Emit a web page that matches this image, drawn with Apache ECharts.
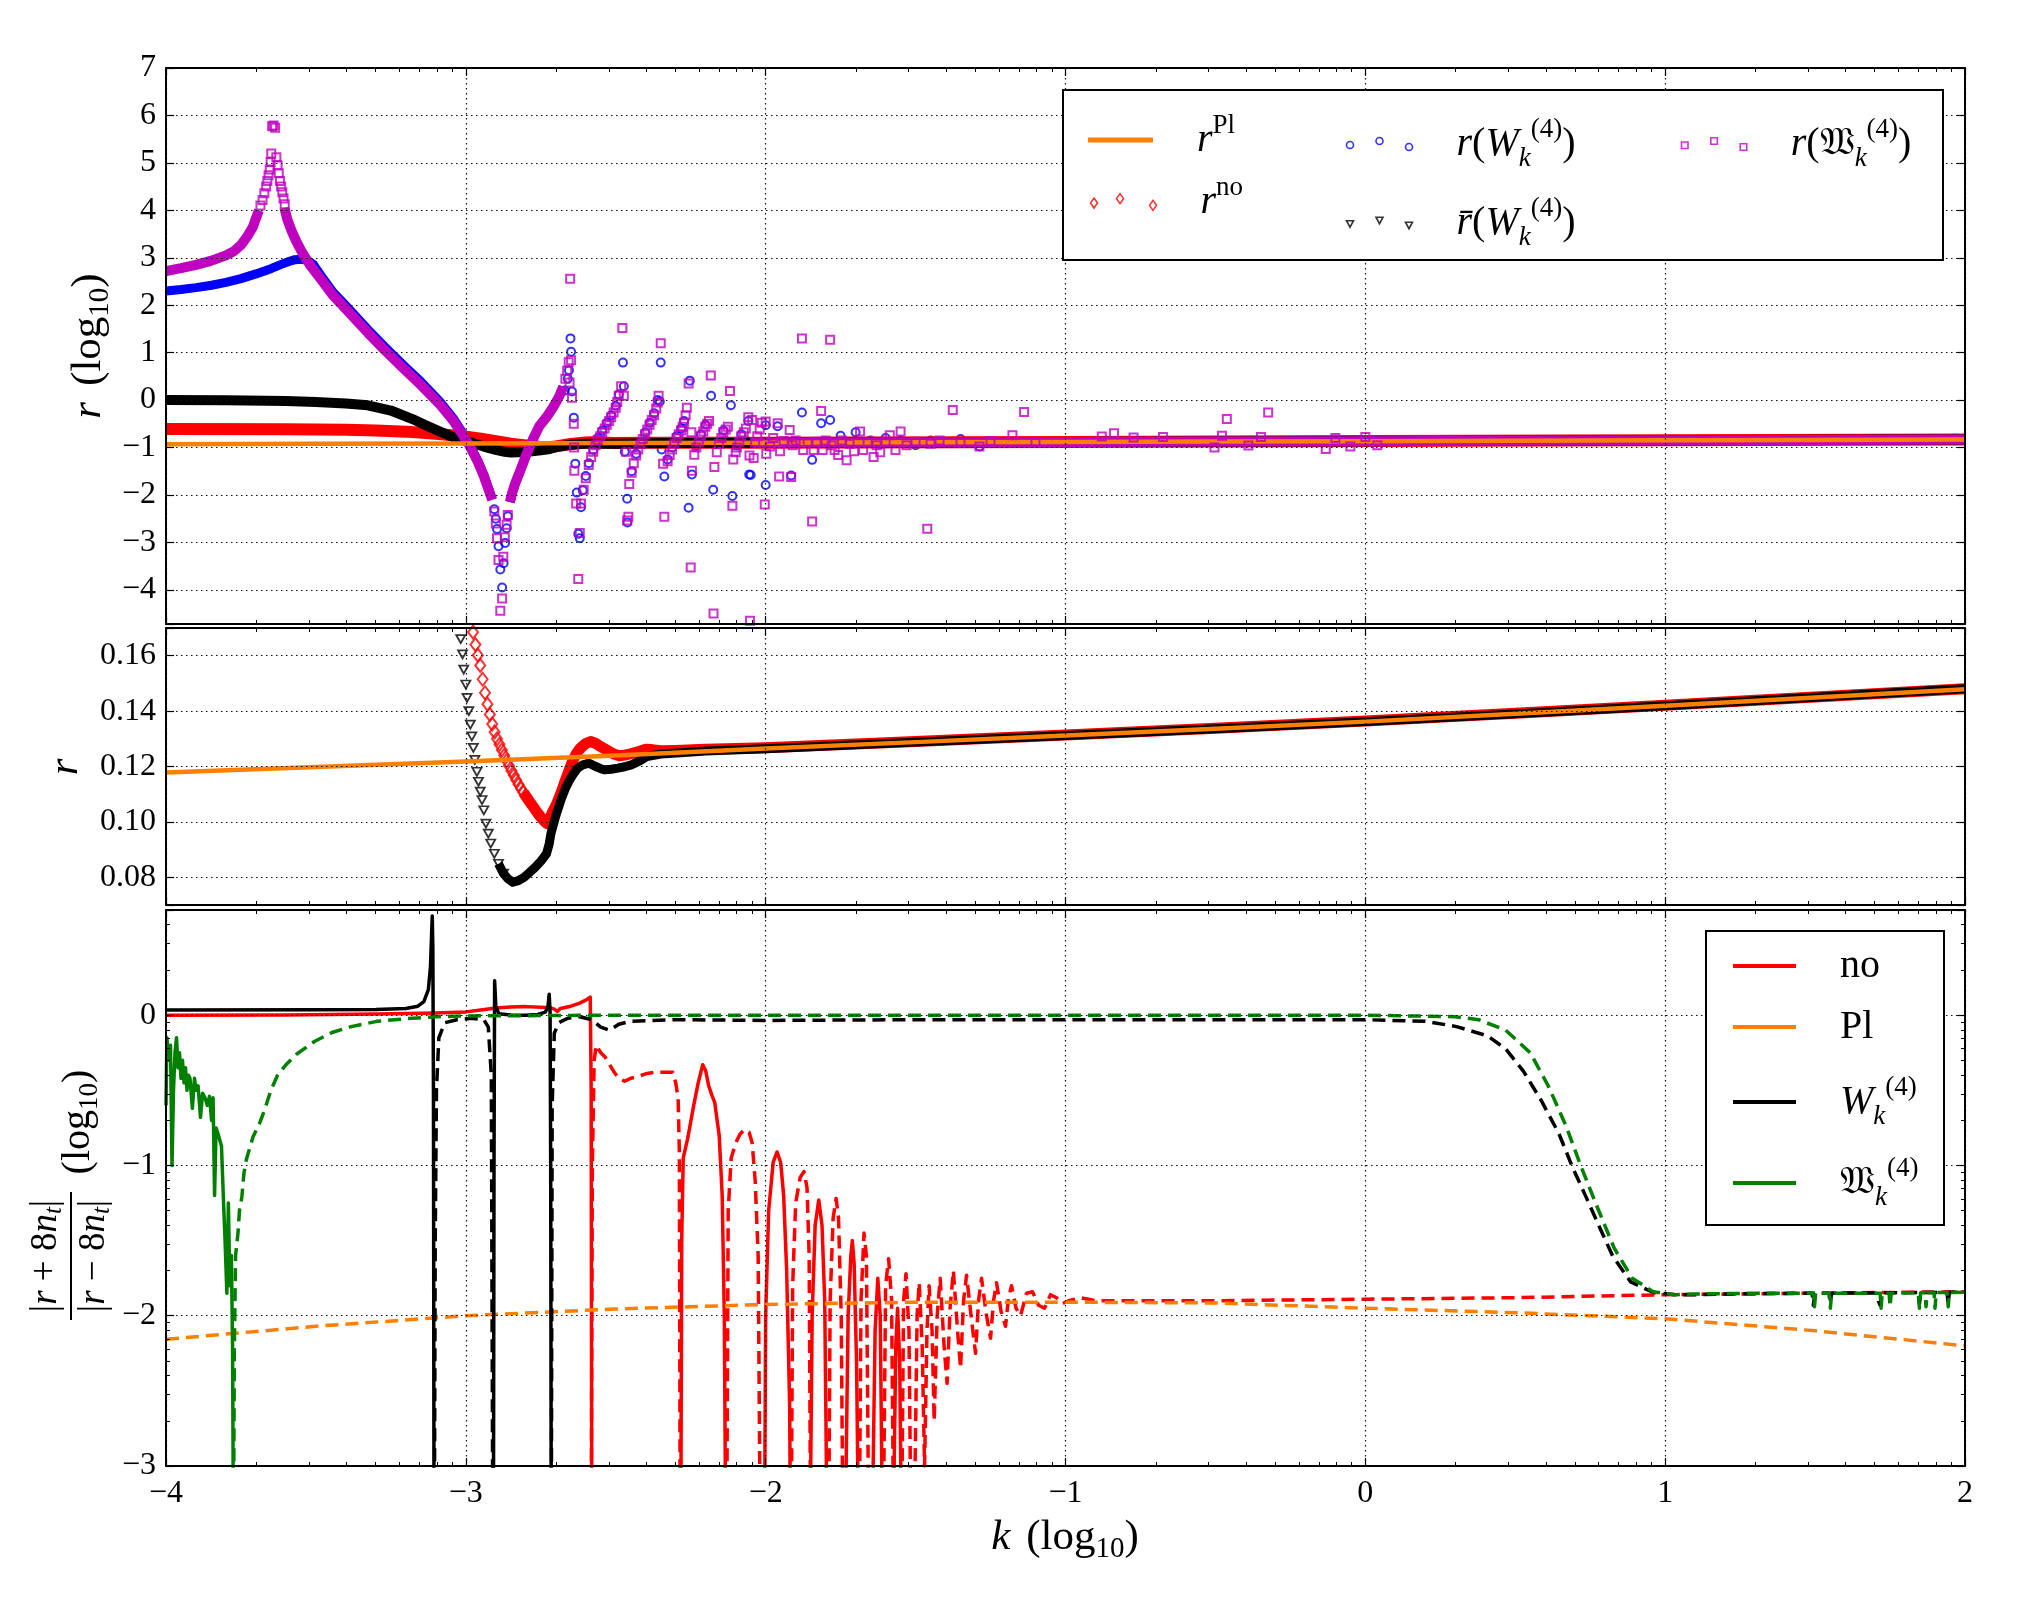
<!DOCTYPE html>
<html>
<head>
<meta charset="utf-8">
<title>r(k)</title>
<script src="https://cdn.jsdelivr.net/npm/echarts@6/dist/echarts.min.js"></script>
<style>
  html, body { margin: 0; padding: 0; background: #fff; }
  #chart { width: 2034px; height: 1603px; }
</style>
</head>
<body>
<div id="chart"></div>
<script>
// all x values are log10(k)

// ---- top panel: log10 r ----
var topPl = [[-4,-0.929],[-3.5,-0.922],[-3,-0.915],[-2.5,-0.907],[-2,-0.898],[-1.5,-0.890],[-1,-0.882],[-0.5,-0.874],[0,-0.866],[0.5,-0.857],[1,-0.848],[1.5,-0.839],[2,-0.830]];
var topNo = [[-4,-0.61],[-3.6,-0.615],[-3.4,-0.625],[-3.3,-0.64],[-3.2,-0.665],[-3.1,-0.71],[-3.0,-0.77],[-2.95,-0.815],[-2.9,-0.865],[-2.85,-0.92],[-2.8,-0.958],[-2.75,-0.99],[-2.73,-1.0],[-2.7,-0.977],[-2.65,-0.925],[-2.6,-0.894],[-2.58,-0.889],[-2.5,-0.905],[-2.4,-0.9],[-2.3,-0.9],[-2.0,-0.897],[-1,-0.881],[0,-0.865],[1,-0.847],[2,-0.829]];
var topRbarW = [[-4,0.0],[-3.8,-0.005],[-3.6,-0.02],[-3.5,-0.04],[-3.4,-0.07],[-3.327,-0.11],[-3.25,-0.22],[-3.178,-0.4],[-3.13,-0.54],[-3.088,-0.66],[-3.05,-0.76],[-3.02,-0.84],[-3.0,-0.86],[-2.97,-0.92],[-2.94,-0.98],[-2.9,-1.05],[-2.87,-1.09],[-2.85,-1.105],[-2.8,-1.095],[-2.75,-1.06],[-2.72,-1.03],[-2.7,-0.99],[-2.65,-0.94],[-2.6,-0.918],[-2.55,-0.92],[-2.5,-0.923],[-2.4,-0.912],[-2.3,-0.904],[-2.0,-0.898],[-1,-0.882],[0,-0.866],[1,-0.848],[2,-0.83]];
var topWBand = [[-4,2.30],[-3.95,2.33],[-3.9,2.37],[-3.848,2.42],[-3.8,2.48],[-3.75,2.56],[-3.7,2.66],[-3.65,2.77],[-3.62,2.85],[-3.59,2.92],[-3.57,2.96],[-3.55,2.97],[-3.53,2.95],[-3.51,2.87],[-3.48,2.6],[-3.446,2.3],[-3.4,1.99],[-3.327,1.49],[-3.27,1.12],[-3.207,0.73],[-3.15,0.39],[-3.088,-0.02],[-3.04,-0.4],[-2.99,-0.9],[-2.96,-1.28],[-2.94,-1.58],[-2.925,-1.85],[-2.912,-2.1],[-2.912,null],[-2.853,-2.15],[-2.845,-1.95],[-2.835,-1.75],[-2.821,-1.53],[-2.8,-1.18],[-2.778,-0.85],[-2.755,-0.55],[-2.731,-0.36],[-2.71,-0.16],[-2.69,0.06],[-2.675,0.28]];
var topFWBand = [[-4,2.72],[-3.95,2.78],[-3.9,2.85],[-3.848,2.94],[-3.8,3.05],[-3.773,3.14],[-3.75,3.27],[-3.729,3.45],[-3.71,3.65],[-3.699,3.85],[-3.69,4.0],[-3.69,null],[-3.605,4.05],[-3.595,3.8],[-3.58,3.55],[-3.565,3.34],[-3.545,3.1],[-3.52,2.85],[-3.48,2.52],[-3.446,2.23],[-3.4,1.92],[-3.327,1.42],[-3.27,1.05],[-3.207,0.66],[-3.15,0.32],[-3.088,-0.08],[-3.04,-0.45],[-2.99,-0.93],[-2.96,-1.3],[-2.94,-1.6],[-2.925,-1.87],[-2.912,-2.1],[-2.912,null],[-2.853,-2.15],[-2.845,-1.95],[-2.835,-1.75],[-2.821,-1.53],[-2.8,-1.18],[-2.778,-0.85],[-2.755,-0.55],[-2.731,-0.36],[-2.71,-0.16],[-2.69,0.06],[-2.675,0.28],[-2.675,null],[-2.05,-0.9],[-2,-0.898],[-1.5,-0.890],[-1,-0.882],[-0.5,-0.874],[0,-0.866],[0.5,-0.857],[1,-0.848],[1.5,-0.839],[2,-0.830]];
var topFWPts = [
  [-3.685,4.1],[-3.678,4.22],[-3.672,4.36],[-3.666,4.5],[-3.662,4.62],[-3.658,4.74],[-3.654,4.86],[-3.651,5.02],[-3.649,5.2],[-3.646,5.77],[-3.641,5.79],[-3.636,5.74],[-3.632,5.12],[-3.628,4.95],[-3.624,4.78],[-3.62,4.62],[-3.616,4.5],[-3.612,4.38],[-3.608,4.25],[-3.604,4.13],
  [-2.905,-2.35],[-2.9,-2.6],[-2.896,-2.91],[-2.891,-3.37],[-2.885,-4.44],[-2.879,-4.18],[-2.875,-3.3],[-2.87,-2.89],[-2.864,-2.63],[-2.86,-2.42],
  [-2.668,0.45],[-2.662,0.62],[-2.657,0.8],[-2.652,2.56],[-2.649,0.84],[-2.654,0.37],[-2.646,0.05],[-2.64,-0.5],[-2.639,-1.0],[-2.638,-1.49],[-2.632,-2.18],[-2.625,-3.77],[-2.62,-2.8],[-2.616,-2.18],
  [-2.607,-1.89],[-2.6,-1.65],[-2.59,-1.37],[-2.582,-1.2],[-2.575,-1.09],[-2.567,-0.95],[-2.56,-0.84],[-2.552,-0.76],[-2.545,-0.68],[-2.537,-0.6],[-2.53,-0.52],[-2.522,-0.44],[-2.515,-0.36],[-2.507,-0.26],[-2.5,-0.16],[-2.495,-0.04],[-2.49,0.09],[-2.482,0.29],[-2.478,1.52],[-2.473,0.09],
  [-2.465,-1.09],[-2.455,-1.77],[-2.462,-2.54],[-2.458,-2.46],
  [-2.447,-1.53],[-2.44,-1.33],[-2.432,-1.17],[-2.425,-1.04],[-2.417,-0.92],[-2.41,-0.82],[-2.402,-0.72],[-2.395,-0.62],[-2.387,-0.52],[-2.38,-0.42],[-2.372,-0.32],[-2.365,-0.18],[-2.36,-0.05],[-2.357,0.09],[-2.35,1.2],
  [-2.342,-1.34],[-2.338,-2.46],
  [-2.327,-1.29],[-2.32,-1.16],[-2.312,-1.04],[-2.305,-0.92],[-2.297,-0.8],[-2.29,-0.72],[-2.282,-0.64],[-2.277,-0.56],[-2.272,-0.48],[-2.267,-0.32],[-2.263,-0.16],[-2.257,0.35],[-2.248,-0.68],
  [-2.25,-3.53],[-2.246,-1.49],
  [-2.238,-1.15],[-2.231,-1.0],[-2.223,-0.88],[-2.216,-0.76],[-2.208,-0.66],[-2.201,-0.56],[-2.195,-0.5],[-2.189,-0.44],[-2.183,0.52],
  [-2.174,-4.5],[-2.171,-1.41],
  [-2.163,-1.1],[-2.156,-0.92],[-2.148,-0.8],[-2.141,-0.68],[-2.133,-0.62],[-2.126,-0.56],[-2.119,0.19],
  [-2.111,-2.23],[-2.108,-1.25],
  [-2.1,-1.1],[-2.096,-1.0],[-2.088,-0.88],[-2.081,-0.76],[-2.073,-0.68],[-2.066,-0.6],[-2.058,-0.36],
  [-2.054,-1.17],[-2.052,-4.65],
  [-2.045,-0.42],[-2.04,-1.22],[-2.035,-0.9],[-2.028,-0.76],[-2.02,-0.62],[-2.013,-0.48],[-2.003,-2.2],[-2.0,-0.45],[-1.998,-1.13],[-1.985,-0.98],[-1.975,-0.8],[-1.96,-0.49],[-1.955,-1.61],[-1.952,-1.08],[-1.94,-0.86],[-1.92,-0.63],[-1.915,-1.62],[-1.91,-0.95],[-1.9,-0.85],[-1.879,1.3],[-1.875,-1.05],[-1.86,-0.9],[-1.845,-2.56],[-1.84,-1.05],[-1.83,-0.88],[-1.815,-0.23],[-1.81,-1.05],[-1.8,-0.85],[-1.785,1.27],[-1.78,-0.95],[-1.77,-1.05],[-1.758,-1.16],[-1.745,-0.85],[-1.73,-1.27],[-1.72,-0.92],[-1.705,-1.08],[-1.685,-0.66],[-1.675,-1.05],[-1.66,-0.9],[-1.64,-1.2],[-1.63,-0.95],[-1.618,-1.1],[-1.6,-0.88],[-1.586,-0.74],[-1.567,-1.05],[-1.55,-0.66],[-1.53,-0.95],[-1.5,-0.88],[-1.461,-2.71],[-1.45,-0.92],[-1.42,-0.85],[-1.376,-0.21],[-1.35,-0.9],[-1.287,-0.98],[-1.25,-0.86],[-1.177,-0.74],[-1.138,-0.25],[-1.1,-0.9],[-0.879,-0.77],[-0.838,-0.7],[-0.773,-0.79],[-0.675,-0.78],[-0.503,-1.0],[-0.478,-0.75],[-0.462,-0.4],[-0.39,-0.96],[-0.348,-0.78],[-0.324,-0.26],[-0.132,-1.03],[-0.1,-0.8],[-0.05,-0.98],[0.0,-0.78],[0.04,-0.95]
];
var topWPts = [
  [-2.905,-2.3],[-2.9,-2.5],[-2.896,-2.72],[-2.891,-3.08],[-2.885,-3.57],[-2.879,-3.95],[-2.874,-3.44],[-2.869,-3.01],[-2.864,-2.7],[-2.86,-2.45],
  [-2.67,0.2],[-2.66,0.45],[-2.656,0.63],[-2.651,1.3],[-2.649,1.02],[-2.646,0.18],[-2.64,-0.37],[-2.635,-1.34],[-2.63,-1.95],[-2.625,-2.82],[-2.62,-2.91],[-2.616,-2.26],
  [-2.61,-1.9],[-2.6,-1.6],[-2.59,-1.33],[-2.575,-1.05],[-2.56,-0.8],[-2.545,-0.64],[-2.53,-0.48],[-2.515,-0.32],[-2.5,-0.12],[-2.49,0.12],[-2.476,0.79],[-2.473,0.29],
  [-2.47,-1.09],[-2.462,-2.08],[-2.461,-2.58],
  [-2.447,-1.5],[-2.432,-1.13],[-2.417,-0.88],[-2.402,-0.68],[-2.387,-0.48],[-2.372,-0.28],[-2.36,0.0],[-2.353,-0.03],[-2.35,0.79],
  [-2.347,-1.04],[-2.338,-1.61],
  [-2.327,-1.25],[-2.312,-1.0],[-2.297,-0.76],[-2.282,-0.6],[-2.272,-0.44],[-2.253,0.41],
  [-2.257,-2.27],[-2.246,-1.57],
  [-2.231,-0.96],[-2.216,-0.72],[-2.201,-0.52],[-2.182,0.09],
  [-2.175,-1.89],
  [-2.156,-0.88],[-2.141,-0.64],[-2.116,-0.11],
  [-2.111,-2.02],
  [-2.096,-0.96],[-2.081,-0.72],[-2.058,-0.44],
  [-2.055,-1.57],
  [-2.05,-1.58],[-2.0,-1.79],[-2.0,-0.53],[-1.96,-0.55],[-1.915,-1.59],[-1.879,-0.26],[-1.845,-1.26],[-1.815,-0.49],[-1.785,-0.42],[-1.75,-0.75],[-1.7,-0.68],[-1.65,-0.85],[-1.6,-0.8],[-1.55,-0.85],[-1.5,-0.95],[-1.45,-0.85],[-1.4,-0.9],[-1.35,-0.82],[-1.287,-0.98],[-1.2,-0.88]
];

// ---- middle panel: r ----
var midPl = [[-4,0.1178],[-3.5,0.1198],[-3,0.1218],[-2.5,0.1240],[-2,0.1265],[-1.5,0.1288],[-1,0.1312],[-0.5,0.1336],[0,0.1362],[0.5,0.1390],[1,0.1419],[1.5,0.1449],[2,0.1479]];
var midNoPts = [[-2.976,0.1685],[-2.968,0.1640],[-2.960,0.1602],[-2.952,0.1565],[-2.944,0.1515],[-2.936,0.1466],[-2.928,0.1425],[-2.920,0.1388],[-2.912,0.1353],[-2.904,0.1325],[-2.896,0.1300],[-2.888,0.1280],[-2.880,0.1260],[-2.872,0.1240],[-2.864,0.1221],[-2.856,0.1203],[-2.848,0.1185],[-2.840,0.1168],[-2.832,0.1151],[-2.824,0.1135],[-2.816,0.1120],[-2.808,0.1106],[-2.800,0.1093]];
var midNoBand = [[-2.808,0.1106],[-2.8,0.1093],[-2.784,0.1068],[-2.768,0.1043],[-2.752,0.1020],[-2.736,0.1000],[-2.728,0.0993],[-2.72,0.1012],[-2.712,0.1033],[-2.704,0.1050],[-2.696,0.1068],[-2.688,0.1090],[-2.68,0.1112],[-2.672,0.1138],[-2.664,0.1162],[-2.656,0.1185],[-2.648,0.1208],[-2.64,0.1228],[-2.632,0.1245],[-2.624,0.1258],[-2.616,0.1268],[-2.6,0.1283],[-2.584,0.1290],[-2.568,0.1284],[-2.552,0.1273],[-2.536,0.1263],[-2.52,0.1253],[-2.504,0.1244],[-2.488,0.1239],[-2.47,0.1241],[-2.45,0.1246],[-2.42,0.1255],[-2.4,0.1262],[-2.38,0.1261],[-2.35,0.1257],[-2.3,0.1258],[-2.2,0.1262],[-2,0.1268],[-1.5,0.1290],[-1,0.1314],[-0.5,0.1338],[0,0.1364],[0.5,0.1392],[1,0.1421],[1.5,0.1451],[2,0.1481]];
var midRbarPts = [[-3.017,0.166],[-3.011,0.1605],[-3.007,0.155],[-3.0,0.1496],[-2.996,0.1448],[-2.99,0.140],[-2.985,0.1351],[-2.98,0.1309],[-2.975,0.1267],[-2.97,0.1224],[-2.963,0.1181],[-2.958,0.1145],[-2.952,0.1109],[-2.946,0.1079],[-2.94,0.1042],[-2.933,0.0994],[-2.925,0.0958],[-2.917,0.0922],[-2.905,0.0885],[-2.891,0.0849],[-2.874,0.0813]];
var midRbarBand = [[-2.891,0.0849],[-2.874,0.0813],[-2.86,0.0795],[-2.843,0.0782],[-2.825,0.0788],[-2.806,0.0800],[-2.787,0.0818],[-2.769,0.0836],[-2.75,0.0858],[-2.731,0.0885],[-2.722,0.092],[-2.716,0.0959],[-2.708,0.0990],[-2.701,0.1018],[-2.69,0.1055],[-2.679,0.1091],[-2.668,0.1120],[-2.657,0.1145],[-2.642,0.1172],[-2.627,0.1194],[-2.61,0.1206],[-2.589,0.1212],[-2.567,0.1200],[-2.55,0.1192],[-2.537,0.1188],[-2.515,0.1190],[-2.493,0.1194],[-2.47,0.1199],[-2.448,0.1206],[-2.42,0.1220],[-2.396,0.1236],[-2.35,0.1245],[-2.284,0.1250],[-2.2,0.1256],[-2,0.1264],[-1.5,0.1288],[-1,0.1312],[-0.5,0.1336],[0,0.1362],[0.5,0.1390],[1,0.1419],[1.5,0.1450],[2,0.1481]];

// ---- bottom panel: log10 |r+8n_t|/|r-8n_t| ----
var botNoSolid = [[-4,0.0],[-3.6,0.002],[-3.3,0.008],[-3.1,0.015],[-3.0,0.022],[-2.95,0.035],[-2.9,0.048],[-2.85,0.055],[-2.8,0.057],[-2.75,0.053],[-2.72,0.05],[-2.705,0.04],[-2.695,0.025],[-2.685,0.045],[-2.65,0.06],[-2.62,0.08],[-2.6,0.1],[-2.585,0.12],[-2.582,-0.5],[-2.58,-3.5],[-2.58,null],
  [-2.283,-3.5],[-2.28,-1.5],[-2.275,-0.95],[-2.26,-0.82],[-2.24,-0.6],[-2.225,-0.45],[-2.21,-0.33],[-2.2,-0.37],[-2.19,-0.47],[-2.18,-0.53],[-2.17,-0.58],[-2.155,-0.8],[-2.145,-1.2],[-2.138,-2.0],[-2.133,-3.5],[-2.13,null],
  [-2.004,-3.5],[-2.0,-2.0],[-1.99,-1.3],[-1.975,-0.98],[-1.962,-0.91],[-1.95,-0.98],[-1.94,-1.2],[-1.93,-1.7],[-1.92,-2.6],[-1.917,-3.5],[-1.915,null],
  [-1.852,-3.5],[-1.845,-2.0],[-1.835,-1.4],[-1.823,-1.23],[-1.812,-1.4],[-1.803,-1.9],[-1.795,-3.5],[-1.79,null],
  [-1.735,-3.5],[-1.725,-2.0],[-1.716,-1.6],[-1.711,-1.5],[-1.705,-1.65],[-1.697,-2.3],[-1.69,-3.5],[-1.688,null],
  [-1.645,-3.5],[-1.635,-2.1],[-1.626,-1.75],[-1.618,-2.0],[-1.61,-3.5],[-1.6,null],
  [-1.575,-3.5],[-1.566,-2.2],[-1.56,-1.95],[-1.553,-2.3],[-1.547,-3.5]];
var botNoDash = [[-2.582,-3.5],[-2.578,-1.0],[-2.572,-0.3],[-2.565,-0.2],[-2.55,-0.25],[-2.535,-0.28],[-2.52,-0.33],[-2.505,-0.38],[-2.49,-0.42],[-2.47,-0.44],[-2.45,-0.42],[-2.43,-0.41],[-2.4,-0.39],[-2.37,-0.38],[-2.33,-0.38],[-2.31,-0.38],[-2.3,-0.45],[-2.292,-0.55],[-2.288,-0.9],[-2.285,-3.5],[-2.285,null],
  [-2.13,-3.5],[-2.125,-1.3],[-2.115,-0.95],[-2.1,-0.85],[-2.085,-0.79],[-2.07,-0.76],[-2.055,-0.78],[-2.045,-0.85],[-2.035,-1.1],[-2.025,-1.6],[-2.018,-3.5],[-2.016,null],
  [-1.915,-3.5],[-1.91,-1.8],[-1.9,-1.25],[-1.885,-1.08],[-1.872,-1.04],[-1.862,-1.15],[-1.855,-1.6],[-1.85,-3.5],[-1.849,null],
  [-1.79,-3.5],[-1.785,-1.9],[-1.775,-1.35],[-1.765,-1.22],[-1.757,-1.35],[-1.748,-2.0],[-1.742,-3.5],[-1.741,null],
  [-1.688,-3.5],[-1.682,-1.9],[-1.672,-1.45],[-1.664,-1.6],[-1.656,-3.5],[-1.655,null],
  [-1.608,-3.5],[-1.6,-1.8],[-1.59,-1.62],[-1.58,-1.9],[-1.573,-3.5],[-1.572,null],
  [-1.547,-3.5],[-1.54,-1.9],[-1.532,-1.72],[-1.522,-2.1],[-1.515,-3.5],[-1.514,null],
  [-1.505,-3.5],[-1.495,-2.0],[-1.488,-1.78],[-1.478,-2.2],[-1.47,-3.0],[-1.462,-2.1],[-1.455,-1.8],[-1.445,-2.1],[-1.438,-2.7],[-1.428,-2.0],[-1.418,-1.75],[-1.405,-2.2],[-1.395,-2.45],[-1.385,-1.95],[-1.374,-1.7],[-1.36,-2.1],[-1.35,-2.35],[-1.34,-1.9],[-1.33,-1.73],[-1.315,-2.0],[-1.3,-2.25],[-1.29,-1.9],[-1.28,-1.75],[-1.265,-1.98],[-1.25,-2.15],[-1.24,-1.9],[-1.23,-1.78],[-1.215,-1.97],[-1.2,-2.07],[-1.19,-1.88],[-1.18,-1.8],[-1.165,-1.95],[-1.15,-2.0],[-1.13,-1.85],[-1.11,-1.84],[-1.09,-1.93],[-1.07,-1.95],[-1.05,-1.86],[-1.03,-1.88],[-1.01,-1.92],[-0.99,-1.9],[-0.95,-1.88],[-0.9,-1.9],[-0.8,-1.9],[-0.5,-1.9],[0,-1.89],[0.5,-1.88],[1,-1.86],[1.5,-1.85],[2,-1.84]];
var botPlSolid = [];
var botPlDash = [[-4,-2.157],[-3.5,-2.07],[-3,-2.0],[-2.5,-1.955],[-2,-1.925],[-1.5,-1.91],[-1,-1.91],[-0.5,-1.915],[0,-1.95],[0.5,-1.98],[1,-2.02],[1.5,-2.1],[2,-2.2]];
var botWSolid = [[-4,0.035],[-3.5,0.036],[-3.3,0.038],[-3.2,0.045],[-3.16,0.06],[-3.14,0.09],[-3.125,0.17],[-3.118,0.32],[-3.114,0.55],[-3.112,0.66],[-3.11,0.45],[-3.108,-0.5],[-3.106,-3.5],[-3.106,null],
  [-2.908,-3.5],[-2.906,-1.0],[-2.904,0.23],[-2.9,0.06],[-2.89,0.01],[-2.85,0.002],[-2.8,0.0],[-2.76,0.005],[-2.735,0.02],[-2.726,0.06],[-2.722,0.14],[-2.719,0.02],[-2.717,-1.0],[-2.715,-3.5]];
var botWDash = [[-3.105,-3.5],[-3.102,-1.5],[-3.098,-0.5],[-3.09,-0.15],[-3.07,-0.05],[-3.03,-0.03],[-2.98,-0.02],[-2.94,-0.03],[-2.925,-0.08],[-2.915,-0.4],[-2.91,-3.5],[-2.91,null],
  [-2.715,-3.5],[-2.712,-0.6],[-2.705,-0.12],[-2.69,-0.05],[-2.66,-0.02],[-2.62,-0.01],[-2.58,-0.03],[-2.55,-0.08],[-2.52,-0.1],[-2.49,-0.06],[-2.45,-0.04],[-2.3,-0.03],[-2.0,-0.035],[-1.5,-0.03],[-1.0,-0.03],[-0.5,-0.03],[0,-0.03],[0.2,-0.04],[0.304,-0.076],[0.408,-0.138],[0.468,-0.224],[0.527,-0.372],[0.587,-0.569],[0.646,-0.79],[0.691,-1.012],[0.736,-1.209],[0.78,-1.406],[0.825,-1.603],[0.885,-1.775],[0.959,-1.844],[1.034,-1.861],[1.1,-1.86],[1.2,-1.855],[1.3,-1.853],[1.49,-1.85],[1.494,-1.93],[1.5,-1.85],[1.547,-1.85],[1.55,-1.92],[1.555,-1.85],[1.7,-1.848],[1.717,-1.93],[1.722,-1.848],[1.844,-1.846],[1.848,-1.92],[1.852,-1.846],[1.94,-1.845],[1.944,-1.92],[1.948,-1.844],[2,-1.843]];
var botFWSolid = [[-4.0,-0.6],[-3.997,-0.15],[-3.99,-0.3],[-3.985,-0.2],[-3.98,-1.0],[-3.975,-0.5],[-3.97,-0.25],[-3.965,-0.15],[-3.96,-0.35],[-3.955,-0.25],[-3.95,-0.42],[-3.945,-0.3],[-3.94,-0.45],[-3.935,-0.35],[-3.93,-0.5],[-3.925,-0.4],[-3.92,-0.42],[-3.912,-0.62],[-3.905,-0.42],[-3.9,-0.5],[-3.893,-0.47],[-3.885,-0.68],[-3.878,-0.52],[-3.87,-0.55],[-3.862,-0.6],[-3.855,-0.54],[-3.848,-0.7],[-3.843,-0.55],[-3.838,-1.2],[-3.833,-0.75],[-3.825,-0.8],[-3.815,-0.87],[-3.808,-1.25],[-3.803,-1.5],[-3.797,-1.85],[-3.792,-1.25],[-3.787,-1.8],[-3.782,-1.6],[-3.778,-2.2],[-3.775,-3.5]];
var botFWDash = [[-3.775,-3.5],[-3.772,-2.2],[-3.768,-1.6],[-3.76,-1.45],[-3.755,-1.3],[-3.747,-1.21],[-3.74,-1.05],[-3.732,-0.96],[-3.72,-0.88],[-3.71,-0.81],[-3.688,-0.72],[-3.673,-0.64],[-3.65,-0.5],[-3.628,-0.4],[-3.6,-0.33],[-3.565,-0.26],[-3.505,-0.175],[-3.446,-0.115],[-3.386,-0.078],[-3.297,-0.041],[-3.178,-0.02],[-3.1,-0.01],[-3.0,-0.005],[-2.5,0.0],[-1.5,0.0],[-0.5,0.0],[0,0.0],[0.3,-0.01],[0.378,-0.03],[0.468,-0.1],[0.55,-0.25],[0.61,-0.47],[0.67,-0.74],[0.72,-1.01],[0.77,-1.26],[0.83,-1.55],[0.89,-1.75],[0.96,-1.84],[1.03,-1.86],[1.1,-1.855],[1.3,-1.85],[1.494,-1.85],[1.498,-1.94],[1.502,-1.85],[1.547,-1.85],[1.551,-1.95],[1.555,-1.85],[1.717,-1.85],[1.72,-1.95],[1.724,-1.85],[1.747,-1.85],[1.75,-1.94],[1.754,-1.85],[1.844,-1.847],[1.848,-1.95],[1.852,-1.847],[1.867,-1.847],[1.87,-1.94],[1.874,-1.847],[1.897,-1.846],[1.9,-1.95],[1.904,-1.846],[1.941,-1.845],[1.944,-1.94],[1.948,-1.845],[2,-1.844]];

(function() {
	var SERIF = 'Liberation Serif, DejaVu Serif, serif';
	var RED = '#ff0000', ORANGE = '#ff7f00', BLUE = '#0000ff', BLACK = '#000000', MAG = '#bf00bf', GREEN = '#008000';

	function extend(a, b) { var o = {}, k; for (k in a) o[k] = a[k]; for (k in b) o[k] = b[k]; return o; }

	// log-spaced minor ticks
	var minorX = [], minorYBot = [], d, m, v;
	for (d = -4; d <= 1; d++) for (m = 2; m <= 9; m++) minorX.push(d + Math.log10(m));
	for (d = -3; d <= 0; d++) for (m = 2; m <= 9; m++) { v = d + Math.log10(m); if (v < 0.7) minorYBot.push(v); }

	function fmtInt(val) {
		var r = Math.round(val);
		if (Math.abs(val - r) > 1e-6) return '';
		return r < 0 ? '\u2212' + (-r) : '' + r;
	}
	function fmtMid(val) {
		var n = Math.round(val * 100);
		if (Math.abs(val * 100 - n) > 1e-6 || n % 2 !== 0) return '';
		return (n / 100).toFixed(2);
	}

	var spine = { show: true, onZero: false, lineStyle: { color: '#000', width: 2 } };
	var noLine = { show: false, onZero: false };
	var majorTick = { show: true, inside: true, length: 8, lineStyle: { color: '#000', width: 1.2 } };
	var gridDots = { show: true, lineStyle: { color: '#111', width: 1.2, type: [1.5, 3.5] } };
	var labelStyle = { color: '#000', fontFamily: SERIF, fontSize: 32 };

	var xAxes = [], yAxes = [];
	function addX(g, showLabels) {
		var base = { type: 'value', gridIndex: g, min: -4, max: 2, interval: 1, z: 5, silent: true };
		xAxes.push(extend(base, { position: 'bottom', axisLine: spine, axisTick: majorTick,
			axisLabel: extend(labelStyle, { show: showLabels, margin: 12, formatter: fmtInt }), splitLine: gridDots }));
		xAxes.push(extend(base, { position: 'top', axisLine: spine, axisTick: majorTick, axisLabel: { show: false }, splitLine: { show: false } }));
		var minor = { show: true, inside: true, length: 4, customValues: minorX, lineStyle: { color: '#000', width: 1 } };
		xAxes.push(extend(base, { position: 'bottom', axisLine: noLine, axisTick: minor, axisLabel: { show: false }, splitLine: { show: false } }));
		xAxes.push(extend(base, { position: 'top', axisLine: noLine, axisTick: minor, axisLabel: { show: false }, splitLine: { show: false } }));
	}
	function addY(g, min, max, splitNumber, fmt) {
		var base = { type: 'value', gridIndex: g, min: min, max: max, splitNumber: splitNumber, z: 5, silent: true };
		yAxes.push(extend(base, { position: 'left', axisLine: spine, axisTick: majorTick,
			axisLabel: extend(labelStyle, { margin: 10, formatter: fmt }), splitLine: gridDots }));
		yAxes.push(extend(base, { position: 'right', axisLine: spine, axisTick: majorTick, axisLabel: { show: false }, splitLine: { show: false } }));
		return base;
	}
	addX(0, false); addX(1, false); addX(2, true);
	addY(0, -4.72, 7, 12, fmtInt);
	addY(1, 0.07, 0.17, 5, fmtMid);
	var botBase = addY(2, -3, 0.7, 4, fmtInt);
	var minorY = { show: true, inside: true, length: 4, customValues: minorYBot, lineStyle: { color: '#000', width: 1 } };
	yAxes.push(extend(botBase, { position: 'left', axisLine: noLine, axisTick: minorY, axisLabel: { show: false }, splitLine: { show: false } }));
	yAxes.push(extend(botBase, { position: 'right', axisLine: noLine, axisTick: minorY, axisLabel: { show: false }, splitLine: { show: false } }));

	function lineS(name, data, g, color, width, z, dashed) {
		return { name: name, type: 'line', xAxisIndex: g * 4, yAxisIndex: g * 2, data: data, symbol: 'none', showSymbol: false,
			connectNulls: false, clip: true, z: z, silent: true, animation: false,
			lineStyle: { color: color, width: width, type: dashed ? [13, 7] : 'solid', cap: 'butt', join: 'round' },
			itemStyle: { color: color } };
	}
	function ptsS(name, data, g, color, symbol, size, rotate, z, bw) {
		return { name: name, type: 'scatter', xAxisIndex: g * 4, yAxisIndex: g * 2, data: data, symbol: symbol, symbolSize: size,
			symbolRotate: rotate || 0, z: z, silent: true, animation: false, clip: true,
			itemStyle: { color: 'rgba(0,0,0,0)', borderColor: color, borderWidth: bw || 1.8 } };
	}

	var series = [
		lineS('rW_band', topWBand, 0, BLUE, 9, 2),
		ptsS('rW', topWPts, 0, BLUE, 'circle', 8, 0, 3, 2),
		lineS('rNo_top', topNo, 0, RED, 12, 4),
		lineS('rbar_top', topRbarW, 0, BLACK, 10, 4),
		lineS('rFW_band', topFWBand, 0, MAG, 10, 4),
		ptsS('rFW', topFWPts, 0, MAG, 'rect', 8, 0, 4, 2),
		lineS('rPl', topPl, 0, ORANGE, 4.5, 4),

		lineS('rNo_band', midNoBand, 1, RED, 11, 2),
		ptsS('rNo', midNoPts, 1, RED, 'diamond', [10, 13], 0, 3, 2),
		lineS('rbar_band', midRbarBand, 1, BLACK, 9, 3),
		ptsS('rbarW', midRbarPts, 1, BLACK, 'triangle', [9, 8], 180, 3, 1.8),
		lineS('rPl_mid', midPl, 1, ORANGE, 4.5, 4),

		lineS('no', botNoSolid, 2, RED, 3.5, 2),
		lineS('no_d', botNoDash, 2, RED, 3.5, 2, true),
		lineS('Pl', botPlSolid, 2, ORANGE, 3.5, 3),
		lineS('Pl_d', botPlDash, 2, ORANGE, 3.5, 3, true),
		lineS('W', botWSolid, 2, BLACK, 3.5, 3),
		lineS('W_d', botWDash, 2, BLACK, 3.5, 3, true),
		lineS('FW', botFWSolid, 2, GREEN, 3.5, 4),
		lineS('FW_d', botFWDash, 2, GREEN, 3.5, 4, true)
	];

	var FRAK = '\uD835\uDD1A';
	var richLeg = {
		gap: { width: 39 },
		i: { fontFamily: SERIF, fontStyle: 'italic', fontSize: 40, lineHeight: 56, color: '#000' },
		n: { fontFamily: SERIF, fontSize: 40, lineHeight: 56, color: '#000' },
		fr: { fontFamily: 'DejaVu Serif, DejaVu Sans, serif', fontSize: 38, lineHeight: 56, color: '#000' },
		sup: { fontFamily: SERIF, fontSize: 27, lineHeight: 56, verticalAlign: 'top', color: '#000' },
		sub: { fontFamily: SERIF, fontStyle: 'italic', fontSize: 27, lineHeight: 56, verticalAlign: 'bottom', color: '#000' }
	};
	var legendText = {
		rPl: '{i|r}{sup|Pl}',
		rNo: '{i|r}{sup|no}',
		rW: '{i|r}{n|(}{i|W}{sub|k}{sup|(4)}{n|)}',
		rbarW: '{i|r\u0304}{n|(}{i|W}{sub|k}{sup|(4)}{n|)}',
		rFW: '{i|r}{n|(}{fr|' + FRAK + '}{sub|k}{sup|(4)}{n|)}',
		no: '{n|no}', Pl: '{n|Pl}',
		W: '{i|W}{sub|k}{sup|(4)}',
		FW: '{fr|' + FRAK + '}{sub|k}{sup|(4)}'
	};
	var iconDiam = 'path://M0,10.7L3.5,5.7L7,10.7L3.5,15.7ZM26,6.3L29.5,1.3L33,6.3L29.5,11.3ZM59,13L62.5,8L66,13L62.5,18Z';
	var iconCirc = 'path://M0,7.5a3.5,3.5 0 1,0 7,0a3.5,3.5 0 1,0 -7,0ZM29.5,3.5a3.5,3.5 0 1,0 7,0a3.5,3.5 0 1,0 -7,0ZM59,9.5a3.5,3.5 0 1,0 7,0a3.5,3.5 0 1,0 -7,0Z';
	var iconTri = 'path://M0,3.5L7,3.5L3.5,10ZM29.5,0L36.5,0L33,6.5ZM59,5L66,5L62.5,11.5Z';
	var iconSq = 'path://M0,4.25h6.5v6.5h-6.5ZM29.35,0h6.5v6.5h-6.5ZM58.75,6h6.5v6.5h-6.5Z';

	function legendOne(name, left, top, icon, w, h, color) {
		var item = { name: name, icon: icon };
		if (color) item.itemStyle = { color: 'none', borderColor: color, borderWidth: 1.6 };
		return { show: true, left: left, top: top, orient: 'vertical', padding: 0, itemGap: 0, z: 20,
			selectedMode: false, itemWidth: w, itemHeight: h, data: [item],
			formatter: function(n) { return '{gap|}' + legendText[n]; },
			textStyle: { color: '#000', fontFamily: SERIF, fontSize: 40, rich: richLeg } };
	}
	var legends = [
		legendOne('rPl', 1088, 112, 'rect', 65, 5),
		legendOne('rNo', 1088, 174, iconDiam, 66, 16.7, RED),
		legendOne('rW', 1344, 116, iconCirc, 66, 13, BLUE),
		legendOne('rbarW', 1344, 195, iconTri, 66, 11.5, BLACK),
		legendOne('rFW', 1679, 116, iconSq, 65.25, 12.5, MAG),
		legendOne('no', 1733, 946, 'rect', 63, 4),
		legendOne('Pl', 1733, 1007, 'rect', 63, 4),
		legendOne('W', 1733, 1074, 'rect', 63, 4),
		legendOne('FW', 1733, 1155, 'rect', 63, 4)
	];

	var richName = {
		i: { fontFamily: SERIF, fontStyle: 'italic', fontSize: 43, lineHeight: 52 },
		n: { fontFamily: SERIF, fontSize: 43, lineHeight: 52 },
		gap: { width: 16 },
		sub: { fontFamily: SERIF, fontSize: 29, lineHeight: 52, verticalAlign: 'bottom' }
	};
	var richLog = {
		n: { fontFamily: SERIF, fontSize: 40, lineHeight: 50 },
		sub: { fontFamily: SERIF, fontSize: 27, lineHeight: 50, verticalAlign: 'bottom' }
	};
	var richFrac = {
		i: { fontFamily: SERIF, fontStyle: 'italic', fontSize: 37, lineHeight: 42 },
		n: { fontFamily: SERIF, fontSize: 37, lineHeight: 42 },
		sub: { fontFamily: SERIF, fontStyle: 'italic', fontSize: 25, lineHeight: 42, verticalAlign: 'bottom' }
	};
	function txt(text, rich, extra) {
		return extend({ type: 'text', z: 10, style: { text: text, rich: rich, fill: '#000', fontFamily: SERIF, fontSize: 40, align: 'center', verticalAlign: 'middle' } }, extra);
	}
	var graphics = [
		{ type: 'rect', z: 10, shape: { x: 1063, y: 90, width: 880, height: 170 }, style: { fill: '#fff', stroke: '#000', lineWidth: 2 } },
		{ type: 'rect', z: 10, shape: { x: 1706, y: 931, width: 238, height: 294 }, style: { fill: '#fff', stroke: '#000', lineWidth: 2 } },
		txt('{i|r}{gap|}{n|(log}{sub|10}{n|)}', richName, { x: 89, y: 346, rotation: Math.PI / 2 }),
		txt('{i|r}', richName, { x: 66, y: 767, rotation: Math.PI / 2 }),
		txt('{i|k}{gap|}{n|(log}{sub|10}{n|)}', richName, { x: 1065, y: 1538 }),
		{ type: 'group', x: 70, y: 1190, rotation: Math.PI / 2, children: [
			txt('{n||}{i|r}{n| + 8}{i|n}{sub|t}{n||}', richFrac, { x: -66, y: -24 }),
			{ type: 'line', z: 10, shape: { x1: -130, y1: 1, x2: -2, y2: 1 }, style: { stroke: '#000', lineWidth: 2 } },
			txt('{n||}{i|r}{n| \u2212 8}{i|n}{sub|t}{n||}', richFrac, { x: -66, y: 24 }),
			txt('{n|(log}{sub|10}{n|)}', richLog, { x: 68, y: 8 })
		] }
	];

	var option = {
		animation: false,
		backgroundColor: '#fff',
		textStyle: { fontFamily: SERIF },
		grid: [
			{ left: 166, top: 68, width: 1799, height: 556 },
			{ left: 166, top: 628, width: 1799, height: 277 },
			{ left: 166, top: 910, width: 1799, height: 556 }
		],
		xAxis: xAxes,
		yAxis: yAxes,
		legend: legends,
		graphic: { elements: graphics },
		series: series
	};

	var chart = echarts.init(document.getElementById('chart'), null, { renderer: 'canvas', width: 2034, height: 1603 });
	chart.setOption(option);
})();
</script>
</body>
</html>
